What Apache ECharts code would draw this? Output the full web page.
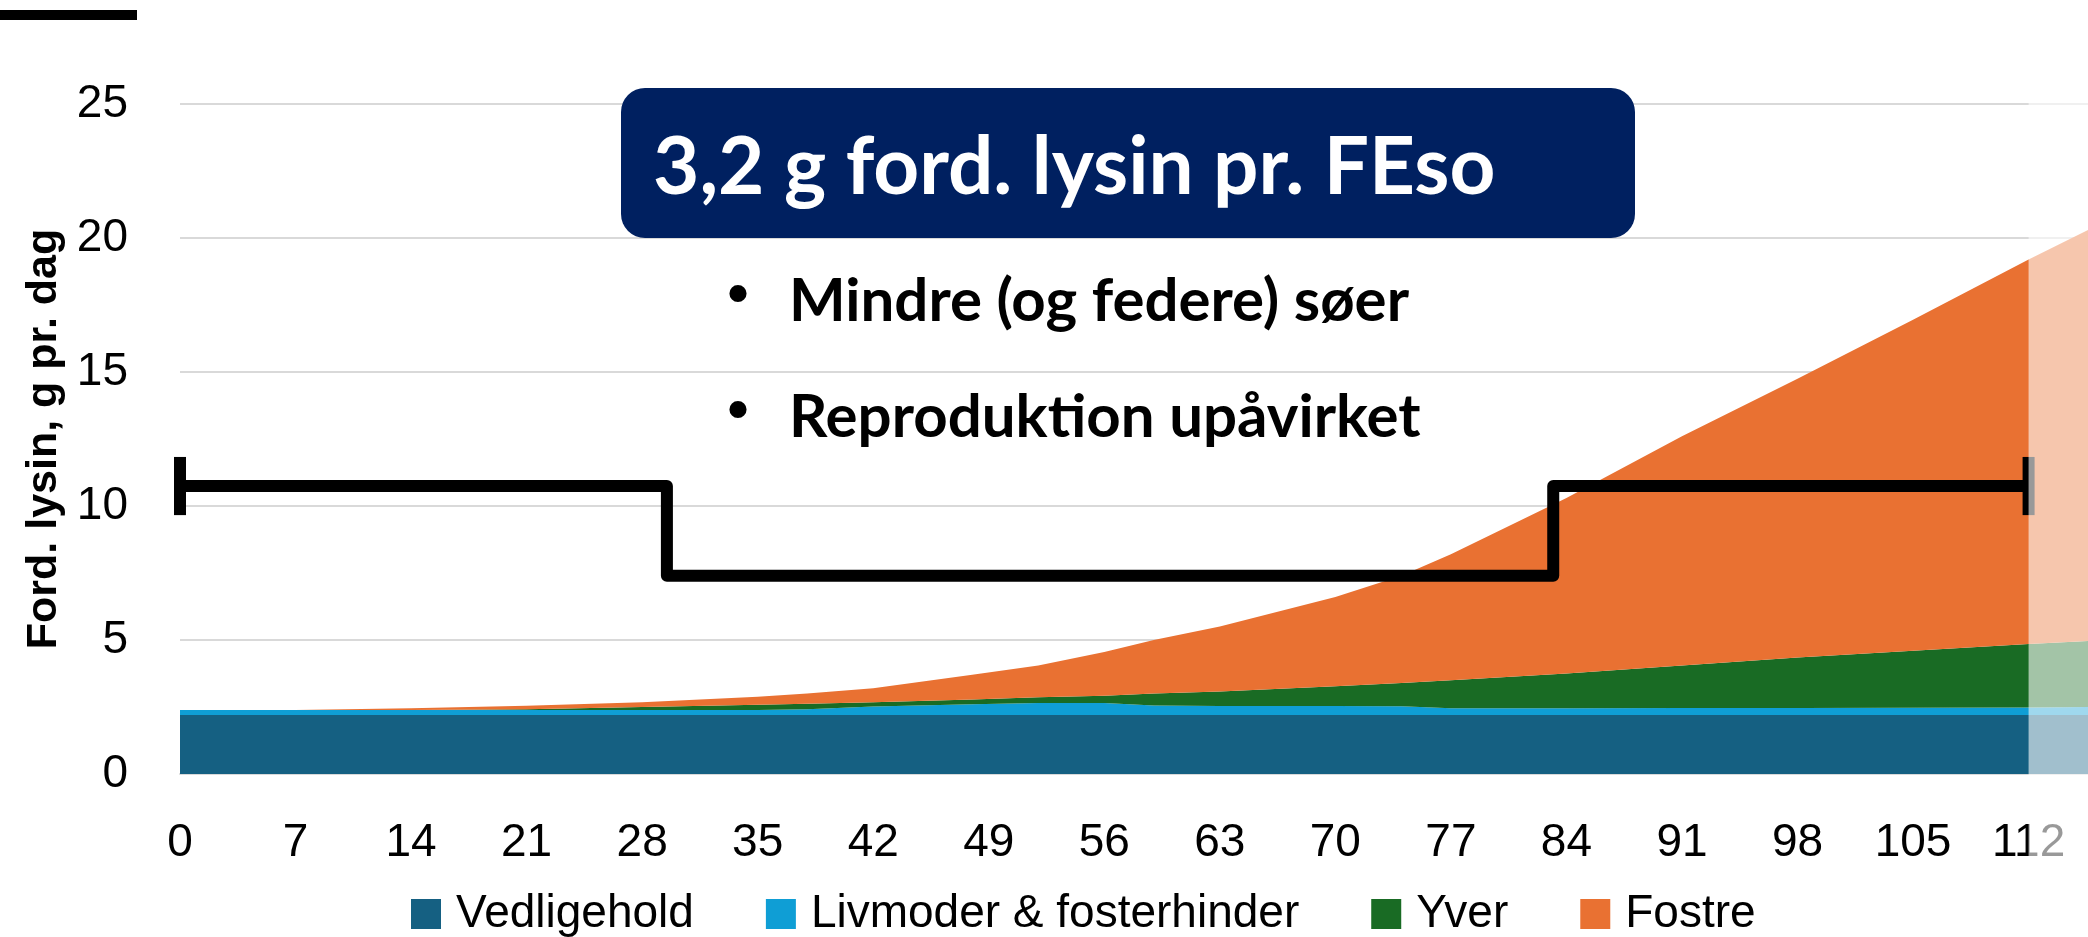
<!DOCTYPE html>
<html>
<head>
<meta charset="utf-8">
<script src="https://cdn.jsdelivr.net/npm/echarts@6/dist/echarts.min.js"></script>
<style>
  html, body { margin: 0; padding: 0; background: #fff; }
  #lysin-chart { width: 2088px; height: 937px; }
</style>
</head>
<body>
<div id="lysin-chart"></div>
<script>
// dage i drægtighed
var days = [0, 7, 14, 21, 28, 35, 38, 42, 48, 52, 56, 59, 63, 70, 74, 77, 84, 91, 98, 105, 112, 115.6]
// g ford. lysin pr. dag, stablet
var vedligehold = [2.2, 2.2, 2.2, 2.2, 2.2, 2.2, 2.2, 2.2, 2.2, 2.2, 2.2, 2.2, 2.2, 2.2, 2.2, 2.2, 2.2, 2.2, 2.2, 2.2, 2.2, 2.2]
var livmoder = [0.19, 0.19, 0.19, 0.19, 0.19, 0.19, 0.22, 0.32, 0.40, 0.45, 0.45, 0.36, 0.34, 0.34, 0.33, 0.25, 0.25, 0.26, 0.26, 0.27, 0.28, 0.30]
var yver = [0, 0, 0, 0.03, 0.11, 0.19, 0.20, 0.16, 0.18, 0.21, 0.27, 0.44, 0.54, 0.73, 0.87, 1.05, 1.30, 1.59, 1.89, 2.13, 2.37, 2.46]
var fostre = [0, 0, 0.06, 0.13, 0.18, 0.30, 0.38, 0.52, 0.92, 1.19, 1.63, 2.00, 2.42, 3.33, 4.00, 4.70, 6.55, 8.55, 10.40, 12.35, 14.35, 15.34]
// tildelt niveau (trappelinje)
var stepDays = [0, 29.5, 83.2, 112]
var stepLevels = [10.75, 7.4, 10.75, 10.75]
var capDays = [0, 112]
var capRange = [9.66, 11.83]
var xTicks = { min: 0, max: 115.6, interval: 7 }
var yTicks = { min: 0, max: 25, interval: 5 }

var seriesNames = ['Vedligehold', 'Livmoder & fosterhinder', 'Yver', 'Fostre']
var seriesColors = ['#156082', '#0F9ED5', '#196B24', '#E97132']
var seriesValues = [vedligehold, livmoder, yver, fostre]

var numFont = "'Liberation Sans', Arial, sans-serif"
var boxFont = "Lato, 'Open Sans', sans-serif"

var myChart = echarts.init(document.getElementById('lysin-chart'))

// [værdi, dag] så stablingen sker på y
function valueFirst (xs, ys) {
  return xs.map(function (x, i) { return [ys[i], x] })
}

var series = seriesValues.map(function (vals, i) {
  return {
    name: seriesNames[i],
    type: 'line',
    stack: 'total',
    encode: { x: 1, y: 0 },
    data: valueFirst(days, vals),
    showSymbol: false,
    symbol: 'none',
    lineStyle: { width: 0 },
    itemStyle: { color: seriesColors[i] },
    areaStyle: { color: seriesColors[i], opacity: 1 },
    z: 2
  }
})

series.push({
  name: 'niveau',
  type: 'line',
  step: 'end',
  encode: { x: 1, y: 0 },
  data: valueFirst(stepDays, stepLevels),
  showSymbol: false,
  symbol: 'none',
  clip: false,
  lineStyle: { color: '#000', width: 12, join: 'round' },
  z: 5
})

capDays.forEach(function (d, i) {
  series.push({
    name: 'cap' + i,
    type: 'line',
    encode: { x: 1, y: 0 },
    data: [[capRange[0], d], [capRange[1], d]],
    showSymbol: false,
    symbol: 'none',
    clip: false,
    lineStyle: { color: '#000', width: 12, cap: 'butt' },
    z: 5
  })
})

var option = {
  animation: false,
  grid: { left: 180, right: 0, top: 104, bottom: 163, containLabel: false },
  legend: {
    data: seriesNames,
    left: 406,
    top: 886,
    itemWidth: 30,
    itemHeight: 30,
    itemGap: 72,
    icon: 'rect',
    textStyle: { fontSize: 46, fontFamily: numFont, color: '#000', padding: [0, 0, 0, 10] }
  },
  xAxis: {
    type: 'value',
    min: xTicks.min,
    max: xTicks.max,
    interval: xTicks.interval,
    axisLine: { show: true, lineStyle: { color: '#D9D9D9', width: 2 } },
    axisTick: { show: false },
    splitLine: { show: false },
    axisLabel: { fontSize: 46, fontFamily: numFont, color: '#000', margin: 46, showMaxLabel: false }
  },
  yAxis: {
    type: 'value',
    min: yTicks.min,
    max: yTicks.max,
    interval: yTicks.interval,
    name: 'Ford. lysin, g pr. dag',
    nameLocation: 'middle',
    nameRotate: 90,
    nameGap: 114,
    nameTextStyle: { fontSize: 43, fontWeight: 'bold', fontFamily: numFont, color: '#000' },
    axisLine: { show: false },
    axisTick: { show: false },
    splitLine: { lineStyle: { color: '#D9D9D9', width: 2 } },
    axisLabel: { fontSize: 46, fontFamily: numFont, color: '#000', margin: 52 }
  },
  series: series
}
myChart.setOption(option)

// hvid slør over resten efter dag 112 + tekstboks
var x112 = myChart.convertToPixel({ xAxisIndex: 0 }, 112)
myChart.setOption({
  graphic: [
    { type: 'rect', shape: { x: 0, y: 10, width: 137, height: 10 }, style: { fill: '#000' }, z: 20 },
    { type: 'rect', shape: { x: 621, y: 88, width: 1014, height: 150, r: 24 }, style: { fill: '#002060' }, z: 20 },
    {
      type: 'text', x: 653, y: 168, z: 21,
      style: { text: '3,2 g ford. lysin pr. FEso', fill: '#fff', font: 'bold 80px ' + boxFont, textAlign: 'left', textVerticalAlign: 'middle' }
    },
    {
      type: 'text', x: 738, y: 296, z: 21,
      style: { text: '•', fill: '#000', font: 'bold 60px ' + numFont, textAlign: 'center', textVerticalAlign: 'middle' }
    },
    {
      type: 'text', x: 789, y: 302, z: 21,
      style: { text: 'Mindre (og federe) søer', fill: '#000', font: 'bold 60px ' + boxFont, textAlign: 'left', textVerticalAlign: 'middle' }
    },
    {
      type: 'text', x: 738, y: 412, z: 21,
      style: { text: '•', fill: '#000', font: 'bold 60px ' + numFont, textAlign: 'center', textVerticalAlign: 'middle' }
    },
    {
      type: 'text', x: 789, y: 418, z: 21,
      style: { text: 'Reproduktion upåvirket', fill: '#000', font: 'bold 60px ' + boxFont, textAlign: 'left', textVerticalAlign: 'middle' }
    },
    { type: 'rect', shape: { x: x112, y: 0, width: 2088 - x112, height: 937 }, style: { fill: 'rgba(255,255,255,0.6)' }, z: 100 }
  ]
})
</script>
</body>
</html>
